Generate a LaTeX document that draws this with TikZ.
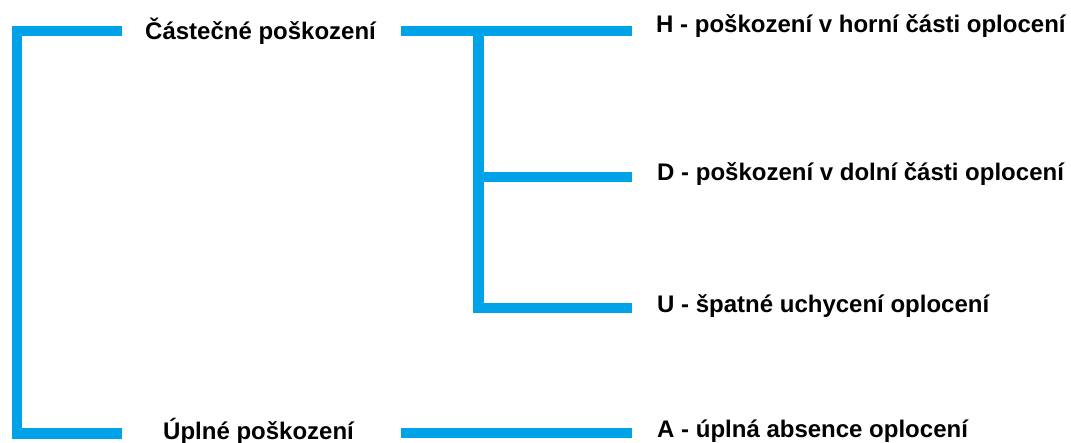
\documentclass[tikz,border=0pt]{standalone}
\usepackage{fontspec}
\setmainfont{Liberation Sans}
\definecolor{branchblue}{RGB}{0,162,232}
\begin{document}
\begin{tikzpicture}[x=1pt,y=-1pt,
  label/.style={anchor=base west,inner sep=0pt,font=\fontsize{24}{28}\selectfont\bfseries,text=black},
  branch/.style={draw=branchblue,line width=10.5pt,line cap=butt,line join=miter}]
\useasboundingbox (0,0) rectangle (1071,443);

% category labels
\node[label] (partial) at (145,40) {Částečné poškození};
\node[label] (total)   at (163,439) {Úplné poškození};

% damage type labels
\node[label] (typeH) at (656,33)  {H - poškození v horní části oplocení};
\node[label] (typeD) at (657,181) {D - poškození v dolní části oplocení};
\node[label] (typeU) at (657,313) {U - špatné uchycení oplocení};
\node[label] (typeA) at (657,438) {A - úplná absence oplocení};

% connector end points
\coordinate (lTop) at (122,31);
\coordinate (lBot) at (122,433.5);
\coordinate (pOut) at (401,31);
\coordinate (hIn)  at (632,31);
\coordinate (fork) at (478.5,31);
\coordinate (dOut) at (478.5,177);
\coordinate (dIn)  at (632,177);
\coordinate (uIn)  at (632,308);
\coordinate (tOut) at (401,433);
\coordinate (aIn)  at (632,433);

% left bracket joining the two categories
\draw[branch] (lTop) -- (17,31) -- (17,433.5) -- (lBot);

% partial damage splits into H, D and U
\draw[branch] (pOut) -- (hIn);
\draw[branch] (fork) -- (fork |- uIn) -- (uIn);
\draw[branch] ([xshift=-5pt]dOut) -- (dIn);

% total damage leads to A
\draw[branch] (tOut) -- (aIn);
\end{tikzpicture}
\end{document}
